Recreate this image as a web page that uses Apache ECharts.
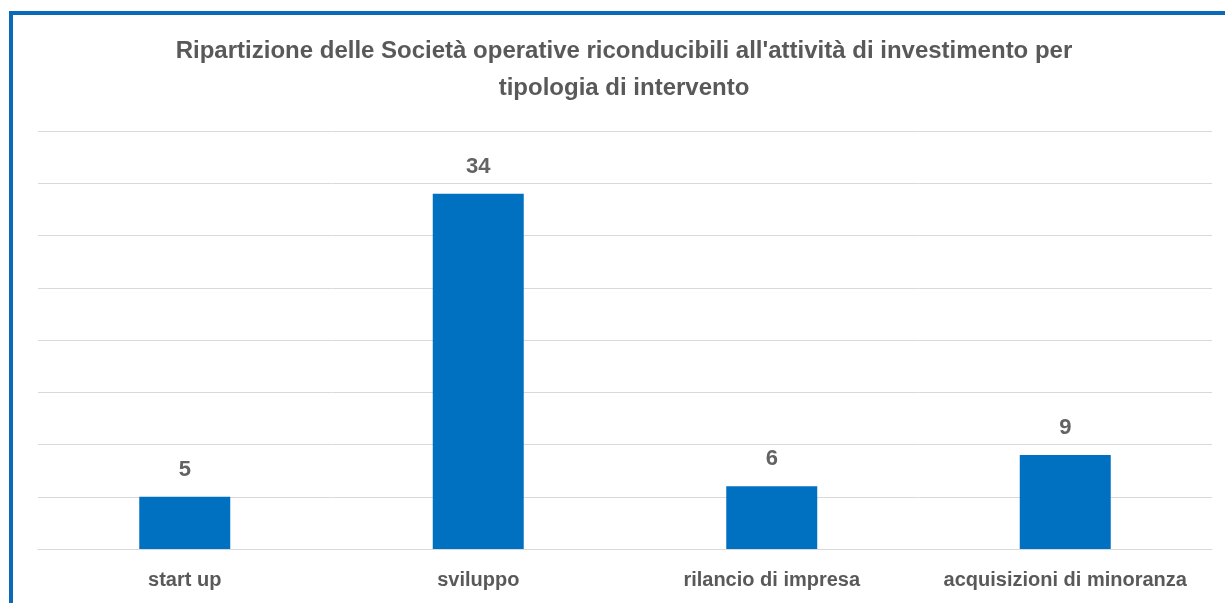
<!DOCTYPE html>
<html>
<head>
<meta charset="utf-8">
<script src="https://cdn.jsdelivr.net/npm/echarts@6/dist/echarts.min.js"></script>
<style>
  html, body { margin: 0; padding: 0; background: #ffffff; }
  #frame {
    position: absolute; left: 9px; top: 11px; width: 1216px; height: 592px;
    border-top: 4px solid #0a6ab8; border-left: 4px solid #0a6ab8;
    box-sizing: border-box; background: #ffffff;
  }
  #chart { position: absolute; left: 0; top: 0; width: 1225px; height: 603px; }
</style>
</head>
<body>
<div id="frame"></div>
<div id="chart"></div>
<script>
// Categorie di intervento e numero di società operative
const categories = ['start up', 'sviluppo', 'rilancio di impresa', 'acquisizioni di minoranza'];
const values = [5, 34, 6, 9];
const titleLines = [
  "Ripartizione delle Società operative riconducibili all'attività di investimento per",
  'tipologia di intervento'
];

const chart = echarts.init(document.getElementById('chart'), null, { renderer: 'canvas' });
const font = '"Liberation Sans", Arial, sans-serif';

chart.setOption({
  backgroundColor: 'transparent',
  animation: false,
  title: {
    text: titleLines.join('\n'),
    left: 619,
    textAlign: 'center',
    top: 28,
    textStyle: {
      fontFamily: font, fontSize: 24, fontWeight: 'bold', color: '#595959', lineHeight: 37
    }
  },
  grid: { left: 38, right: 13, top: 131, bottom: 54, containLabel: false },
  xAxis: {
    type: 'category',
    data: categories,
    axisTick: { show: false },
    axisLine: { lineStyle: { color: '#d9d9d9', width: 1 } },
    axisLabel: {
      interval: 0,
      fontFamily: font, fontSize: 20, fontWeight: 'bold', color: '#595959', margin: 21
    }
  },
  yAxis: {
    type: 'value',
    min: 0, max: 40, interval: 5,
    axisLabel: { show: false },
    axisLine: { show: false },
    axisTick: { show: false },
    splitLine: { lineStyle: { color: '#d9d9d9', width: 1 } }
  },
  series: [{
    type: 'bar',
    data: values,
    barWidth: '31%',
    itemStyle: { color: '#0070c0' },
    label: {
      show: true, position: 'top', distance: 16,
      fontFamily: font, fontSize: 22, fontWeight: 'bold', color: '#636363'
    }
  }]
});
</script>
</body>
</html>
